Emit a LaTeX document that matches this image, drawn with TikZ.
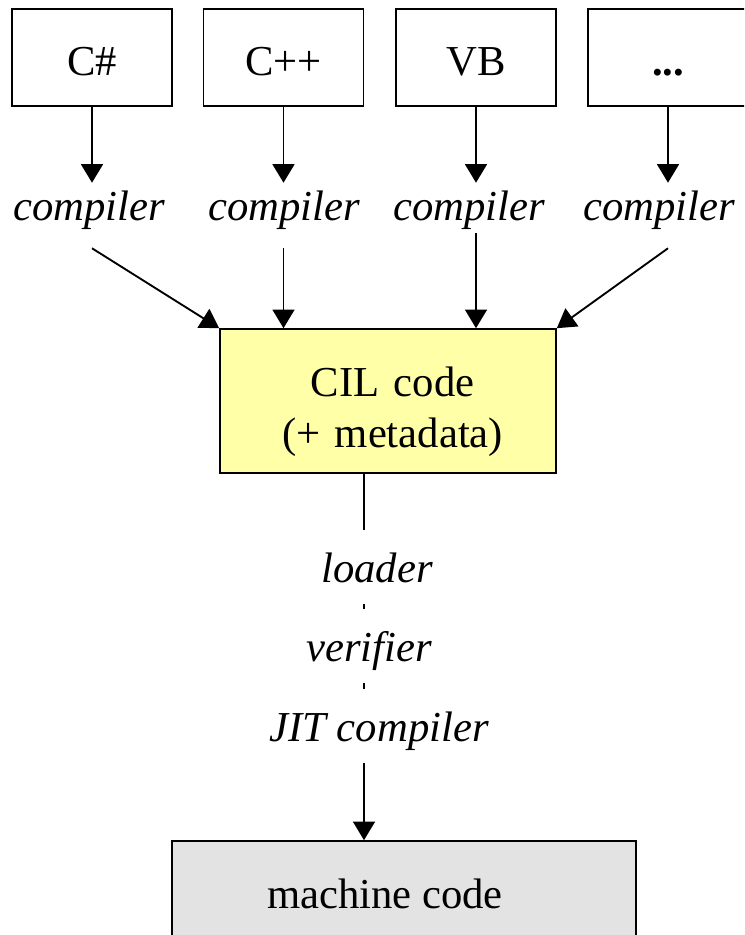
\documentclass[tikz,border=0pt]{standalone}
\usepackage{fontspec}
\setmainfont{Liberation Serif}
\usetikzlibrary{arrows.meta,calc}

\definecolor{cilyellow}{RGB}{255,255,168}
\definecolor{mcgray}{RGB}{227,227,227}

\begin{document}
\begin{tikzpicture}[x=0.75pt, y=-0.75pt,
    every node/.style={font=\fontsize{32pt}{38.3pt}\selectfont},
    langbox/.style={draw, line width=1.2pt, minimum width=120pt, minimum height=72.75pt,
        text height=26.25pt, text depth=0pt},
    tool/.style={font=\fontsize{32pt}{38.3pt}\selectfont\itshape, inner ysep=0pt, anchor=base},
    complabel/.style={tool, text height=27.75pt, text depth=21pt},
    steplabel/.style={tool, text height=39pt, text depth=16.5pt},
    flow/.style={line width=1.4pt, -{Triangle[length=14pt, width=16.5pt]}},
    spine/.style={line width=1.4pt}]

    % Cornice
    \clip (0,0) rectangle (744,935);

    % Linguaggi sorgente
    \node[langbox] (cs)  at (92,57.5)    {C\#};
    \node[langbox] (cpp) at (283.5,57.5) {C++};
    \node[langbox] (vb)  at (476,57.5)   {VB};
    \node[langbox] (etc) at (668,57.5)   {\textbf{...}};

    % Compilatori
    \node[complabel] (comp1) at (89,220)  {compiler};
    \node[complabel] (comp2) at (284,220) {compiler};
    \node[complabel] (comp3) at (469,220) {compiler};
    \node[complabel] (comp4) at (659,220) {compiler};

    % Codice intermedio
    \node[draw, fill=cilyellow, line width=1.2pt, minimum width=252pt, minimum height=108pt,
        text width=200pt, align=center, text height=39pt] (cil) at (388,401)
        {\hspace*{7pt}CIL code\\\hspace*{7pt}(+ metadata)};

    % Fasi a runtime
    \coordinate (spine) at (364,0);
    \node[steplabel] (loader)   at (377,582) {loader};
    \node[steplabel] (verifier) at (369,661) {verifier};
    \node[steplabel] (jit)      at (379,741) {JIT compiler};

    % Codice macchina
    \node[draw, fill=mcgray, line width=1.2pt, minimum width=348pt, minimum height=78pt,
        text height=22.5pt, text depth=0pt] (mc) at (404,893) {machine code\kern28.5pt};

    % Frecce verso i compilatori
    \draw[flow] (cs.south)  -- (cs.south |- comp1.north);
    \draw[flow] (cpp.south) -- (cpp.south |- comp2.north);
    \draw[flow] (vb.south)  -- (vb.south |- comp3.north);
    \draw[flow] (etc.south) -- (etc.south |- comp4.north);

    % Frecce verso il CIL
    \draw[flow] (cs.south |- comp1.south) -- (cil.north west);
    \draw[flow] (cpp.south |- comp2.south) -- (cpp.south |- cil.north);
    \draw[flow] ($(vb.south |- comp3.south)+(0,-15)$) -- (vb.south |- cil.north);
    \draw[flow] (etc.south |- comp4.south) -- (cil.north east);

    % Dal CIL al codice macchina
    \draw[spine] (cil.south -| spine) -- (spine |- loader.north);
    \draw[spine] (spine |- loader.south) -- (spine |- verifier.north);
    \draw[spine] (spine |- verifier.south) -- (spine |- jit.north);
    \draw[flow] (spine |- jit.south) -- (spine |- mc.north);

\end{tikzpicture}
\end{document}
